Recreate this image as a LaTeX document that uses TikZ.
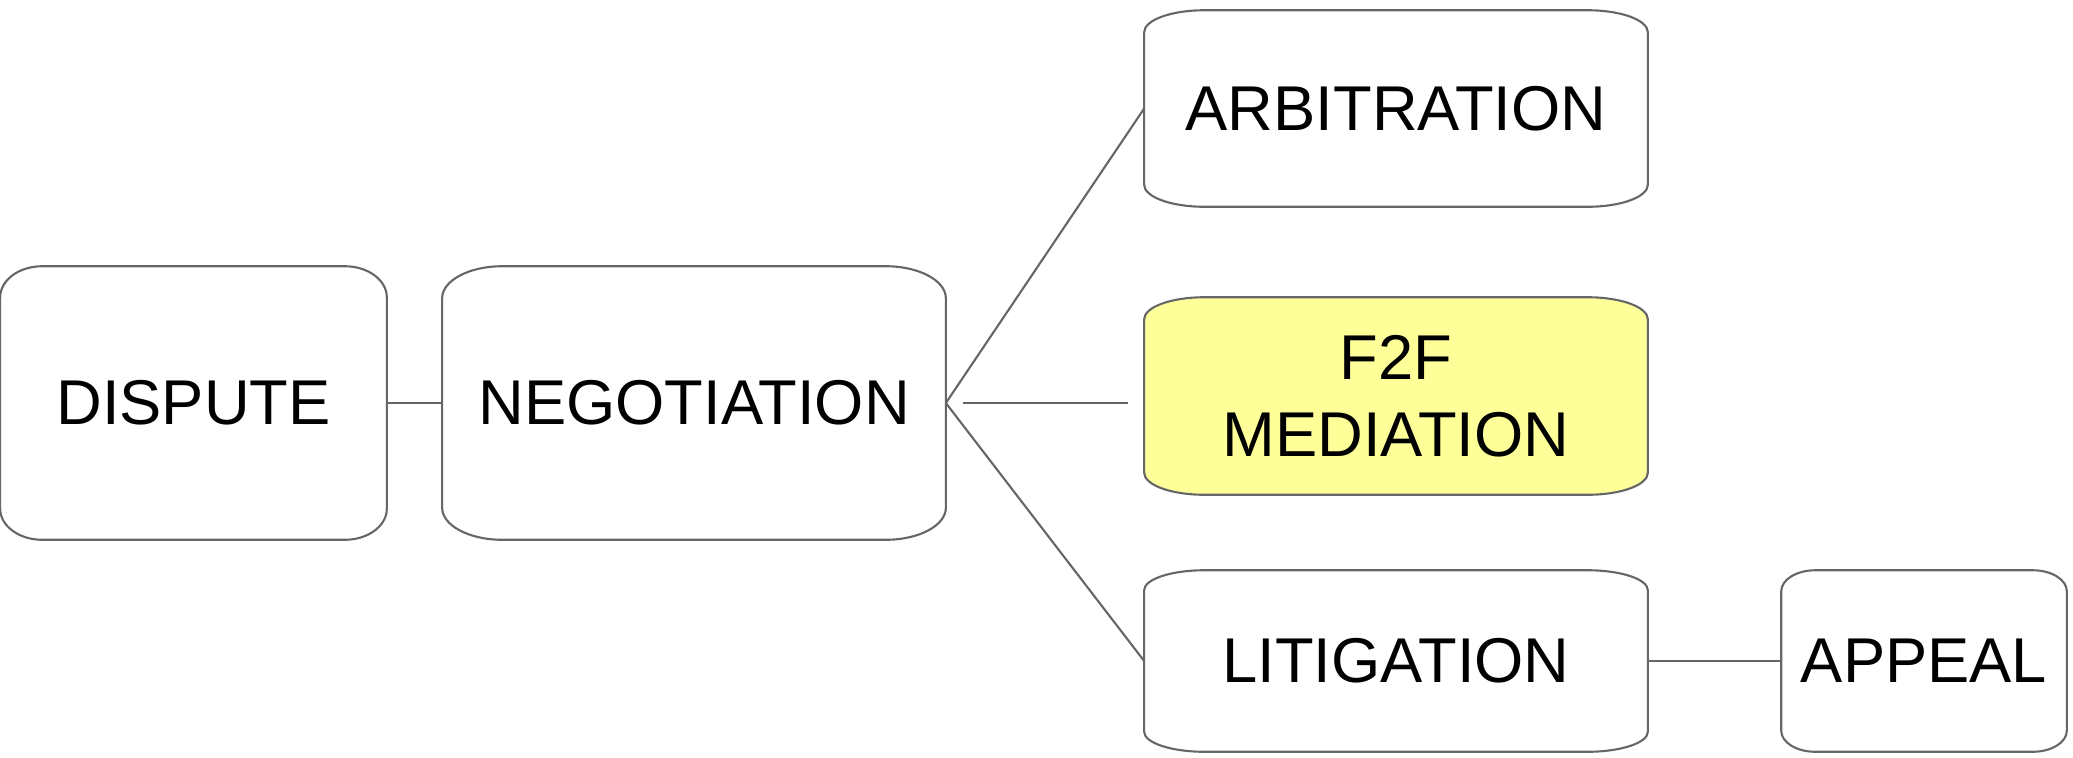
\documentclass[tikz,border=0pt]{standalone}
\usepackage{fontspec}
\setmainfont{Liberation Sans}
\usetikzlibrary{backgrounds}

% outline with elliptical corners round a named node: [opts]{node}{x radius}{y radius}
\newcommand{\ovalframe}[4][]{%
\draw[frame,#1] ([xshift=#3]#2.north west) -- ([xshift=-#3]#2.north east)
  arc[start angle=90,end angle=0,x radius=#3,y radius=#4]
  -- ([yshift=#4]#2.south east)
  arc[start angle=0,end angle=-90,x radius=#3,y radius=#4]
  -- ([xshift=#3]#2.south west)
  arc[start angle=270,end angle=180,x radius=#3,y radius=#4]
  -- ([yshift=-#4]#2.north west)
  arc[start angle=180,end angle=90,x radius=#3,y radius=#4] -- cycle;}

\definecolor{linegray}{HTML}{666666}
\definecolor{paleyellow}{HTML}{FFFF99}

\begin{document}
\begin{tikzpicture}[x=0.01cm,y=-0.01cm,
 stage/.style ={inner sep=0pt,align=center,font=\fontsize{18}{22}\selectfont},
 frame/.style ={draw=linegray,line width=0.6pt},
 link/.style ={-,draw=linegray,line width=0.6pt}
 ]
\useasboundingbox (0,0) rectangle (2073,757);
%draw stages
\node[stage,minimum width=3.85cm,minimum height=2.72cm] (dispute) at (193.5,403) {DISPUTE};
\node[stage,minimum width=5.02cm,minimum height=2.72cm] (negotiation) at (694,403) {NEGOTIATION};
\node[stage,minimum width=5.02cm,minimum height=1.95cm] (arbitration) at (1396,108.5) {ARBITRATION};
\node[stage,minimum width=5.02cm,minimum height=1.96cm] (mediation) at (1396,396) {F2F\\MEDIATION};
\node[stage,minimum width=5.02cm,minimum height=1.80cm] (litigation) at (1396,661) {LITIGATION};
\node[stage,minimum width=2.84cm,minimum height=1.80cm] (appeal) at (1924,661) {APPEAL};
%draw outlines behind the text
\begin{scope}[on background layer]
\ovalframe{dispute}{0.42cm}{0.31cm}
\ovalframe{negotiation}{0.60cm}{0.32cm}
\ovalframe{arbitration}{0.60cm}{0.22cm}
\ovalframe[fill=paleyellow]{mediation}{0.60cm}{0.22cm}
\ovalframe{litigation}{0.60cm}{0.20cm}
\ovalframe{appeal}{0.34cm}{0.21cm}
\end{scope}
%draw links
\draw[link] (dispute.east) -- (negotiation.west);
\draw[link] (negotiation.east) -- (arbitration.west);
\draw[link] (negotiation.east) -- (litigation.west);
\coordinate (medin) at (mediation.west |- negotiation.east);
\draw[link,shorten <=0.17cm,shorten >=0.16cm] (negotiation.east) -- (medin);
\draw[link] (litigation.east) -- (appeal.west);
\end{tikzpicture}
\end{document}
